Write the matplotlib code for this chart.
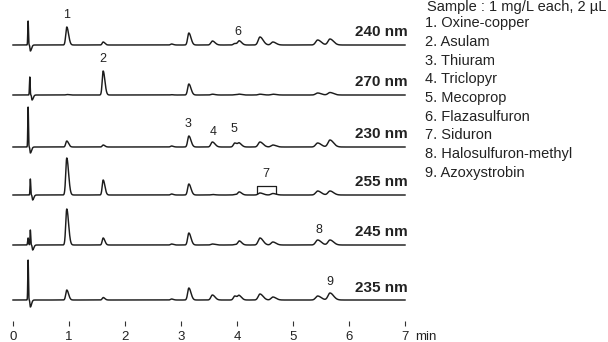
import numpy as np
import matplotlib
matplotlib.use("Agg")
import matplotlib.pyplot as plt

plt.rcParams['font.family'] = ['Liberation Sans', 'DejaVu Sans']

# Detection wavelengths, top to bottom
wavelengths = ["240 nm", "270 nm", "230 nm", "255 nm", "245 nm", "235 nm"]

# Retention times (min) of the resolved peaks
retention = [0.96, 1.61, 2.83, 3.14, 3.56, 3.96, 4.04, 4.41, 4.64, 5.44, 5.66]
peak_sigma = [0.018, 0.017, 0.018, 0.021, 0.026, 0.024, 0.024, 0.031, 0.031, 0.035, 0.035]

# Peak heights (mAU) for each wavelength, in the order of `retention`
heights = {
    "240 nm": [18, 3, 1, 12, 4, 1.5, 4, 8, 3, 5, 6],
    "270 nm": [0.5, 24, 0.3, 11, 0.8, 0.3, 0.8, 0.8, 0.8, 2, 2.5],
    "230 nm": [6, 2, 1, 11, 5, 4, 3.5, 5, 2, 4, 7],
    "255 nm": [37, 15, 1, 11, 0.5, 0.5, 3, 2, 1.5, 4, 4],
    "245 nm": [36, 7, 1, 12, 1, 0.5, 4, 7, 3, 5, 5],
    "235 nm": [10, 2.5, 1, 12, 5, 4, 4, 6, 3, 4, 7],
}

# Injection (void) disturbance: time, spike height, dip depth
void_time = [0.27, 0.30, 0.27, 0.31, 0.31, 0.27]
void_spike = [24, 18, 40, 16, 15, 40]
void_dip = [6, 5, 6, 5, 5, 7]

# Compound list
compounds = ["Oxine-copper", "Asulam", "Thiuram", "Triclopyr", "Mecoprop",
             "Flazasulfuron", "Siduron", "Halosulfuron-methyl", "Azoxystrobin"]

# Vertical offset of each trace
offsets = [281, 231, 179, 131, 81, 26]

t = np.linspace(0, 7, 6000)


def peak(t, t0, h, s, tail=1.8):
    s_arr = np.where(t < t0, s, s * tail)
    return h * np.exp(-0.5 * ((t - t0) / s_arr) ** 2)


fig = plt.figure(figsize=(6.08, 3.42), dpi=100)
ax = fig.add_axes([13 / 608, 16 / 342, 392 / 608, 326 / 342])
ax.set_xlim(0, 7)
ax.set_ylim(0, 326)
for sp in ax.spines.values():
    sp.set_visible(False)
ax.set_yticks([])
ax.set_xticks(range(8))
ax.tick_params(axis='x', direction='in', length=3.6, width=0.8, color='#333333',
               labelsize=9.5, pad=3.8, labelcolor='#222222')

line_color = '#1c1c1c'
for i, wl in enumerate(wavelengths):
    y = np.zeros_like(t)
    for t0, h, s in zip(retention, heights[wl], peak_sigma):
        y += peak(t, t0, h, s)
    tv = void_time[i]
    y += peak(t, tv, void_spike[i], 0.006, 1.0)
    y -= peak(t, tv + 0.04, void_dip[i], 0.007, 3.0)
    if wl == "245 nm":
        y += peak(t, tv - 0.04, 7, 0.008, 1.0)
    ax.plot(t, offsets[i] + y, color=line_color, lw=1.05, clip_on=False)
    ax.text(7.05, offsets[i] + 12.5, wl, ha='right', va='center',
            fontsize=11, fontweight='bold', color='#222222')

# Peak numbers
lbl_kw = dict(ha='center', va='center', fontsize=9, color='#222222')
ax.text(0.964, 311, "1", **lbl_kw)
ax.text(1.61, 267, "2", **lbl_kw)
ax.text(3.12, 202, "3", **lbl_kw)
ax.text(3.57, 194, "4", **lbl_kw)
ax.text(3.95, 197, "5", **lbl_kw)
ax.text(4.02, 294, "6", **lbl_kw)
ax.text(4.52, 152, "7", **lbl_kw)
ax.text(5.46, 96, "8", **lbl_kw)
ax.text(5.66, 44, "9", **lbl_kw)

# Bracket grouping the two Siduron peaks
ax.plot([4.36, 4.36, 4.70, 4.70], [133, 140, 140, 133], color=line_color, lw=0.9)

ax.text(7.18, -11, "min", ha='left', va='center', fontsize=9.5, color='#222222',
        clip_on=False)

# Sample conditions and compound list
fig.text(427 / 608, 1 - 7 / 342, "Sample : 1 mg/L each, 2 \u00b5L", ha='left',
         va='center', fontsize=10.5, color='#222222')
for k, name in enumerate(compounds):
    fig.text(425 / 608, 1 - (23.5 + 18.65 * k) / 342, f"{k + 1}. {name}",
             ha='left', va='center', fontsize=10.5, color='#222222')

fig.savefig("out.png", dpi=100)
